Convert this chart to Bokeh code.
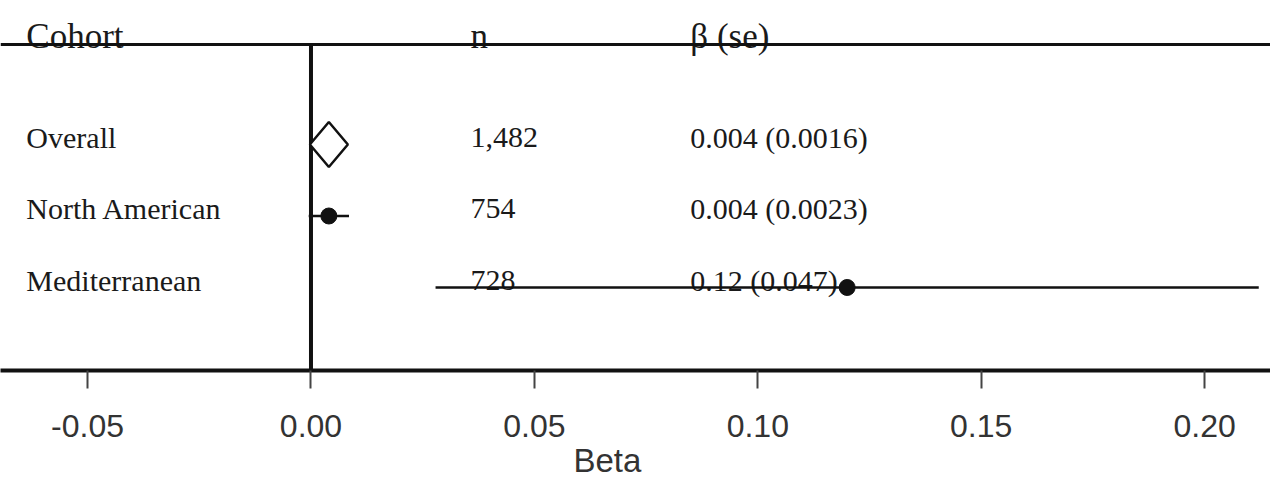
from bokeh.plotting import figure
from bokeh.models import Range1d, FixedTicker, NumeralTickFormatter, Span, Title
from bokeh.core.properties import value
from bokeh.embed import file_html
from bokeh.resources import INLINE

# ---- data ----
cohorts = ["Overall", "North American", "Mediterranean"]
n_labels = ["1,482", "754", "728"]
betas = [0.004, 0.004, 0.12]
ses = [0.0016, 0.0023, 0.047]
beta_labels = ["0.004 (0.0016)", "0.004 (0.0023)", "0.12 (0.047)"]
headers = ["Cohort", "n", "\u03b2 (se)"]
x_ticks = [-0.05, 0.0, 0.05, 0.10, 0.15, 0.20]
rows = [1, 2, 3]
x_label = "Beta"

# ---- layout constants (styles / positions, not data) ----
COL_X = [-0.0637, 0.0357, 0.0849]   # text columns in x-data units
SEP_Y = -0.399                        # header separator row position
Y_BOTTOM, Y_TOP = 4.161, -1.014
X_START, X_END = -0.06949, 0.21475
SERIF = "Liberation Serif"
SANS = "Liberation Sans"

lo = [b - 1.96 * s for b, s in zip(betas, ses)]
hi = [b + 1.96 * s for b, s in zip(betas, ses)]

p = figure(width=1270, height=478, output_backend="svg", toolbar_location=None,
           x_range=Range1d(X_START, X_END), y_range=Range1d(Y_BOTTOM, Y_TOP),
           y_axis_location=None, min_border_left=0, min_border_right=0,
           min_border_top=0, min_border_bottom=108)
p.grid.visible = False
p.outline_line_color = None
p.background_fill_color = "white"
p.border_fill_color = "white"

# header separator line
p.add_layout(Span(location=SEP_Y, dimension="width", line_color="#111", line_width=3))
# zero reference line
p.segment(x0=[0], y0=[SEP_Y], x1=[0], y1=[Y_BOTTOM], line_color="#111", line_width=4)

# header texts
p.text(x=COL_X, y=[SEP_Y] * 3, text=headers, text_font=value(SERIF),
       text_font_size="35px", text_color="#1a1a1a", text_baseline="alphabetic",
       y_offset=-8)

# row texts
for col_x, labels in zip(COL_X, [cohorts, n_labels, beta_labels]):
    p.text(x=[col_x] * len(rows), y=rows, text=labels, text_font=value(SERIF),
           text_font_size="30px", text_color="#1a1a1a", text_baseline="alphabetic",
           y_offset=-7)

# overall diamond (first row)
hw, hh = 0.00425, 0.315
b0, r0 = betas[0], rows[0]
p.patch(x=[b0 - hw, b0, b0 + hw, b0], y=[r0, r0 - hh, r0, r0 + hh],
        fill_color="white", line_color="#111", line_width=2.5)

# cohort estimates with CI
p.segment(x0=lo[1:], y0=rows[1:], x1=hi[1:], y1=rows[1:], line_color="#111", line_width=2.5)
p.scatter(x=betas[1:], y=rows[1:], size=16, fill_color="#111", line_color="#111")

# x axis
ax = p.xaxis[0]
ax.ticker = FixedTicker(ticks=x_ticks)
ax.formatter = NumeralTickFormatter(format="0.00")
ax.axis_line_width = 4
ax.axis_line_color = "#111"
ax.major_tick_line_width = 2
ax.major_tick_line_color = "#444"
ax.major_tick_out = 18
ax.major_tick_in = 0
ax.minor_tick_line_color = None
ax.major_label_text_font = SANS
ax.major_label_text_font_size = "32px"
ax.major_label_text_color = "#333"
ax.major_label_standoff = 26

p.add_layout(Title(text=x_label, align="left", offset=573, standoff=0,
                   text_font=SANS, text_font_size="33px", text_color="#333",
                   text_font_style="normal"), "below")

open("out.html", "w").write(file_html(p, INLINE))
